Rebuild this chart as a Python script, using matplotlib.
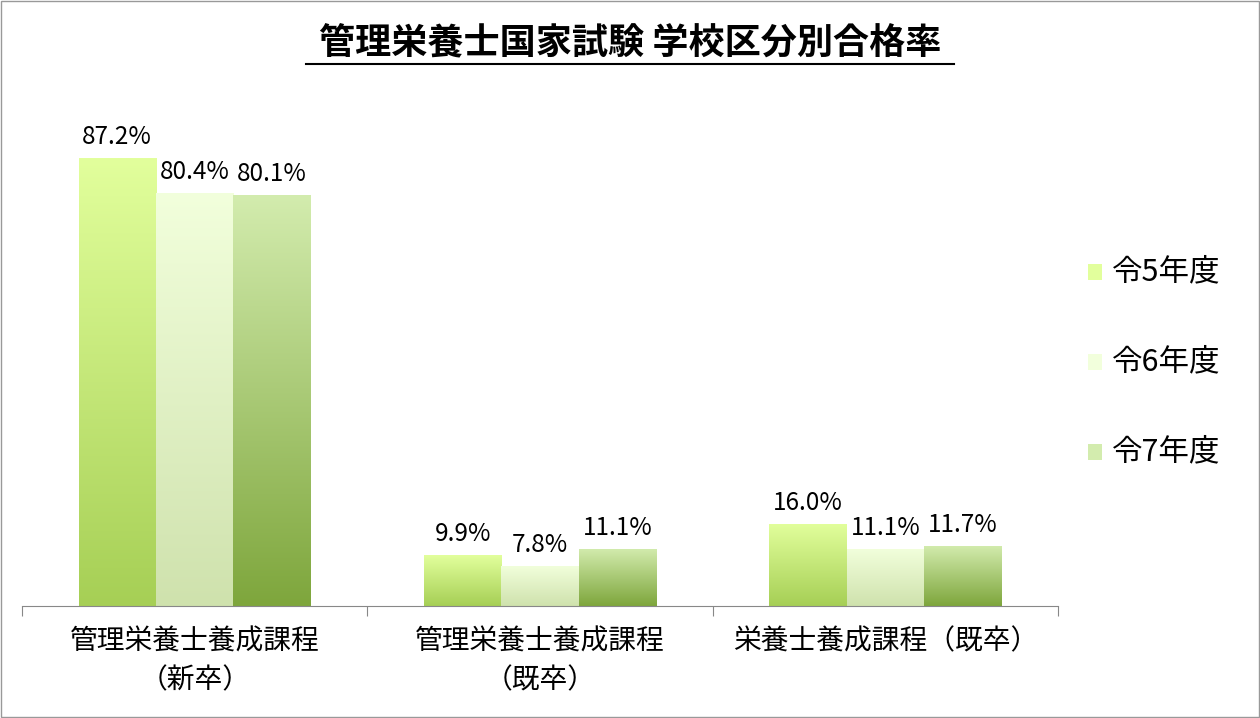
import numpy as np
import matplotlib
matplotlib.use('Agg')
import matplotlib.pyplot as plt
from matplotlib.patches import Rectangle
from matplotlib.colors import LinearSegmentedColormap

plt.rcParams['font.family'] = ['Noto Sans CJK JP', 'DejaVu Sans']

categories = ['管理栄養士養成課程\n（新卒）', '管理栄養士養成課程\n（既卒）', '栄養士養成課程（既卒）']
series = ['令5年度', '令6年度', '令7年度']
values = [
    [87.2, 9.9, 16.0],
    [80.4, 7.8, 11.1],
    [80.1, 11.1, 11.7],
]
# top colour, bottom colour per series
grads = [('#e2ff9c', '#a6cf55'), ('#f2ffdc', '#cfe2ad'), ('#d3ecae', '#7ea63c')]

fig = plt.figure(figsize=(12.6, 7.18), dpi=100)
ax = fig.add_axes([22 / 1260, 1 - 606 / 718, 1036 / 1260, 506 / 718])
ax.set_xlim(-0.5, 2.5)
ax.set_ylim(0, 98.5)

w = 0.224
x = np.arange(len(categories))
grad = np.linspace(1, 0, 256).reshape(-1, 1)
for i, (name, vals) in enumerate(zip(series, values)):
    cmap = LinearSegmentedColormap.from_list(name, [grads[i][1], grads[i][0]])
    for xi, v in zip(x, vals):
        left = xi + (i - 1) * w - w / 2
        im = ax.imshow(grad, cmap=cmap, aspect='auto', extent=[left, left + w, 0, v],
                       vmin=0, vmax=1, zorder=2)
        r = Rectangle((left, 0), w, v, facecolor='none', edgecolor='none')
        ax.add_patch(r)
        im.set_clip_path(r)
        ax.text(left + w / 2, v + 1.5, f'{v:.1f}%', ha='center', va='bottom', fontsize=17.5)

ax.set_xlim(-0.5, 2.5)
for s in ['top', 'right', 'left']:
    ax.spines[s].set_visible(False)
ax.spines['bottom'].set_color('#888888')
ax.set_yticks([])
ax.set_xticks([-0.5, 0.5, 1.5, 2.5])
ax.set_xticklabels([])
ax.tick_params(axis='x', length=7, color='#888888')
for xi, c in zip(x, categories):
    ax.text(xi, -4, c, ha='center', va='top', fontsize=20, linespacing=1.4)

fig.text(0.5, 1 - 44 / 718, '管理栄養士国家試験 学校区分別合格率', ha='center', va='center',
         fontsize=26, fontweight='bold')
fig.add_artist(plt.Line2D([306 / 1260, 954 / 1260], [1 - 64 / 718] * 2, color='black', lw=1.5))

for i, name in enumerate(series):
    y = 1 - (272 + i * 90) / 718
    fig.patches.append(Rectangle((1088 / 1260, y - 8 / 718), 14 / 1260, 16 / 718,
                                 transform=fig.transFigure, facecolor=grads[i][0],
                                 edgecolor='none'))
    fig.text(1112 / 1260, y, name, va='center', fontsize=22)

fig.patches.append(Rectangle((0.001, 0.001), 0.998, 0.997, transform=fig.transFigure,
                             facecolor='none', edgecolor='#999999', lw=1))
fig.savefig('out.png', dpi=100)
